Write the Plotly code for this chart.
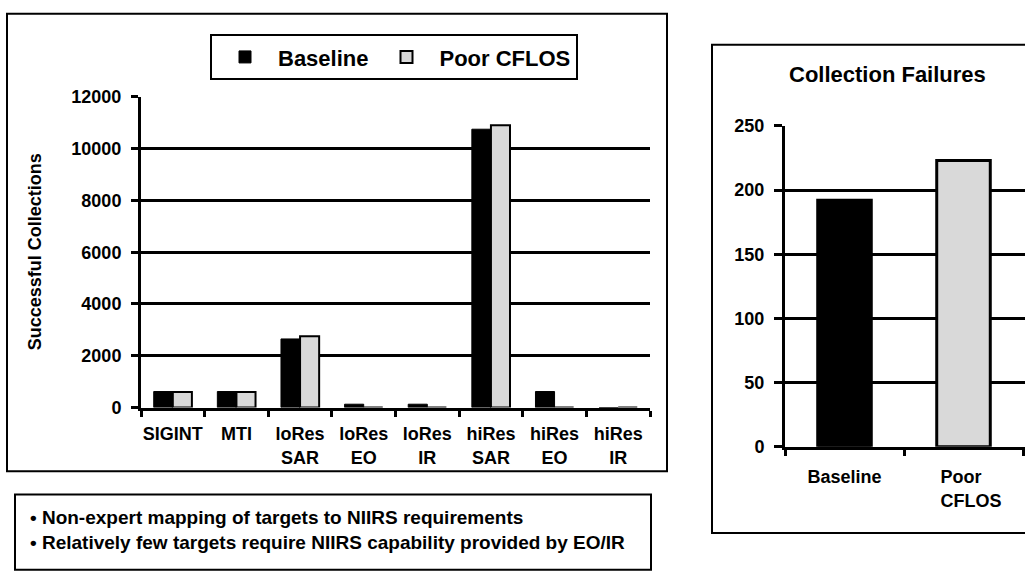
import plotly.graph_objects as go

# ---------------- data ----------------
categories = ["SIGINT", "MTI", "loRes SAR", "loRes EO", "loRes IR", "hiRes SAR", "hiRes EO", "hiRes IR"]
tick_labels = ["SIGINT", "MTI", "loRes<br>SAR", "loRes<br>EO", "loRes<br>IR", "hiRes<br>SAR", "hiRes<br>EO", "hiRes<br>IR"]
baseline = [620, 620, 2650, 130, 130, 10750, 620, 0]
poor_cflos = [600, 600, 2750, 0, 0, 10900, 0, 0]

fail_categories = ["Baseline", "Poor CFLOS"]
fail_tick_labels = ["Baseline", "\u00a0\u00a0\u00a0Poor\u00a0\u00a0\u00a0\u00a0<br>\u00a0\u00a0\u00a0CFLOS"]
fail_values = [192, 223]

notes = ["\u2022 Non-expert mapping of targets to NIIRS requirements",
         "\u2022 Relatively few targets require NIIRS capability provided by EO/IR"]

# ---------------- layout helpers ----------------
W, H = 1025, 571
FONT = "Liberation Sans, Arial, Helvetica, sans-serif"
BLACK = "#000000"
GRAY = "#d9d9d9"


def px(x):
    return x / W


def py(y):
    return 1 - y / H


def bfont(size):
    return dict(family=FONT, size=size, color=BLACK, weight="bold")


fig = go.Figure()

fig.add_trace(go.Bar(x=categories, y=baseline, name="Baseline",
                     marker=dict(color=BLACK, line=dict(color=BLACK, width=1)),
                     xaxis="x", yaxis="y"))
fig.add_trace(go.Bar(x=categories, y=poor_cflos, name="Poor CFLOS",
                     marker=dict(color=GRAY, line=dict(color=BLACK, width=2)),
                     xaxis="x", yaxis="y"))
fig.add_trace(go.Bar(x=fail_categories, y=fail_values, showlegend=False, width=0.45,
                     marker=dict(color=[BLACK, GRAY], line=dict(color=BLACK, width=3)),
                     xaxis="x2", yaxis="y2"))

n = len(categories)
m = len(fail_categories)
right_end = (m - 0.5) + 2 / 119.0

axis_common = dict(showline=True, linecolor=BLACK, linewidth=3, tickcolor=BLACK,
                   tickwidth=3, zeroline=False)

fig.update_layout(
    width=W, height=H,
    margin=dict(l=0, r=0, t=0, b=0),
    paper_bgcolor="white", plot_bgcolor="white",
    barmode="group", bargap=0.4, bargroupgap=0,
    font=dict(family=FONT, color=BLACK),
    showlegend=True,
    legend=dict(orientation="h", x=px(210), y=py(25), xanchor="left", yanchor="top",
                bordercolor=BLACK, borderwidth=2, bgcolor="white",
                font=bfont(22), traceorder="normal", itemwidth=56),
    xaxis=dict(domain=[px(141), px(650)], anchor="y", type="category",
               categoryorder="array", categoryarray=categories,
               range=[-0.5, n - 0.5], tickson="boundaries",
               tickmode="array", tickvals=categories, ticktext=tick_labels,
               ticks="outside", ticklen=6, showgrid=False, tickangle=0,
               ticklabelstandoff=8,
               tickfont=bfont(18), **axis_common),
    xaxis3=dict(overlaying="x", anchor="y", range=[-0.5, n - 0.5],
                tickmode="array", tickvals=[i - 0.5 for i in range(n + 1)],
                ticks="inside", ticklen=7, tickwidth=3, tickcolor=BLACK,
                showticklabels=False, showgrid=False, zeroline=False, showline=False),
    yaxis=dict(domain=[py(412), py(90)], anchor="x", range=[0, 12000], dtick=2000,
               tickformat="d", ticks="outside", ticklen=7, ticklabelstandoff=6,
               showgrid=True, gridcolor=BLACK, gridwidth=3,
               tickfont=bfont(18), **axis_common),
    xaxis2=dict(domain=[px(785), 1.0], anchor="y2", type="category",
                categoryorder="array", categoryarray=fail_categories,
                range=[-0.5, right_end], tickson="boundaries",
                tickmode="array", tickvals=fail_categories, ticktext=fail_tick_labels,
                ticks="outside", ticklen=6, showgrid=False, tickangle=0,
                ticklabelstandoff=12,
                tickfont=bfont(18), **axis_common),
    xaxis4=dict(overlaying="x2", anchor="y2", range=[-0.5, right_end],
                tickmode="array", tickvals=[i - 0.5 for i in range(m + 1)],
                ticks="inside", ticklen=6, tickwidth=3, tickcolor=BLACK,
                showticklabels=False, showgrid=False, zeroline=False, showline=False),
    yaxis2=dict(domain=[py(452.7), py(120)], anchor="x2", range=[0, 250], dtick=50,
                tickformat="d", ticks="outside", ticklen=8, ticklabelstandoff=6,
                showgrid=True, gridcolor=BLACK, gridwidth=3,
                tickfont=bfont(18), **axis_common),
)

# frames
frame = dict(type="rect", xref="paper", yref="paper", line=dict(color=BLACK, width=2),
             fillcolor="rgba(0,0,0,0)", layer="above")
fig.add_shape(x0=px(7), x1=px(667), y0=py(478), y1=py(4), **frame)
fig.add_shape(x0=px(712), x1=px(1040), y0=py(542), y1=py(36), **frame)
fig.add_shape(x0=px(15), x1=px(651), y0=py(580), y1=py(502), **frame)

# texts
fig.add_annotation(text="Successful Collections", x=px(35), y=py(251), xref="paper", yref="paper",
                   xanchor="center", yanchor="middle",
                   textangle=-90, showarrow=False, font=bfont(18))
fig.add_annotation(text="Collection Failures", x=px(887), y=py(67), xref="paper", yref="paper",
                   xanchor="center", yanchor="middle",
                   showarrow=False, font=bfont(22))
fig.add_annotation(text="<br>".join(notes), x=px(28), y=py(539), xref="paper", yref="paper",
                   xanchor="left", yanchor="middle", align="left", showarrow=False,
                   font=bfont(19))

fig.write_html("out.html")
